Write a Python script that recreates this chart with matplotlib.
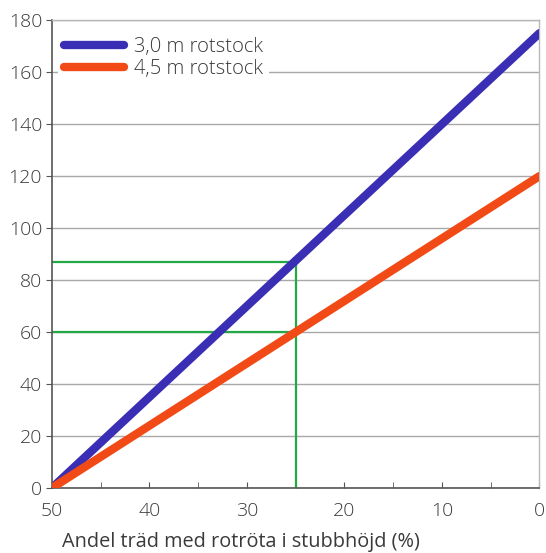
import matplotlib.pyplot as plt
import numpy as np

# values
x_share = [50, 0]                 # andel träd med rotröta (%)
y_30 = [0, 175]                   # 3,0 m rotstock
y_45 = [0, 120]                   # 4,5 m rotstock
labels = ['3,0 m rotstock', '4,5 m rotstock']
mark_x = 25
mark_y = [87, 60]

blue = '#3a2fb4'
orange = '#f24a16'
green = '#23a845'
txt = '#3a3a3a'

plt.rcParams['font.family'] = ['Open Sans', 'DejaVu Sans']
plt.rcParams['font.weight'] = 300

fig = plt.figure(figsize=(5.46, 5.53), dpi=100)
ax = fig.add_axes([0.095, 0.1175, 0.893, 0.846])

ax.set_xlim(50, 0)
ax.set_ylim(0, 180)

# green reading lines
ax.plot([mark_x, mark_x], [0, mark_y[0]], color=green, lw=1.6, zorder=2)
for yv in mark_y:
    ax.plot([50, mark_x], [yv, yv], color=green, lw=1.6, zorder=2)

ax.plot(x_share, y_30, color=blue, lw=6, solid_capstyle='round', label=labels[0], zorder=3)
ax.plot(x_share, y_45, color=orange, lw=6, solid_capstyle='round', label=labels[1], zorder=3)

ax.set_yticks(np.arange(0, 181, 20))
ax.set_xticks([50, 40, 30, 20, 10, 0])
ax.set_xticks(np.arange(5, 50, 10), minor=True)
ax.yaxis.grid(True, color='#a8a8a8', lw=1)
ax.set_axisbelow(True)

ax.tick_params(axis='y', direction='out', length=4, color='#555555', labelsize=14, labelcolor=txt, pad=3)
ax.tick_params(axis='x', which='both', direction='in', length=4, color='#555555', labelsize=14, labelcolor=txt, pad=10)

for s in ['left', 'bottom']:
    ax.spines[s].set_color('#555555')
    ax.spines[s].set_linewidth(1.2)
for s in ['top', 'right']:
    ax.spines[s].set_color('#b8b8b8')
    ax.spines[s].set_linewidth(1)

ax.set_xlabel('Andel träd med rotröta i stubbhöjd (%)', fontsize=14.3, color=txt)
ax.xaxis.set_label_coords(0.388, -0.095)

leg = ax.legend(loc='upper left', bbox_to_anchor=(0.0, 0.99), frameon=True, fontsize=14.5,
                handlelength=3.0, handletextpad=0.5, labelspacing=0.1, borderpad=0.3,
                borderaxespad=0.3)
leg.get_frame().set_facecolor('white')
leg.get_frame().set_edgecolor('none')
leg.get_frame().set_alpha(1)
for t in leg.get_texts():
    t.set_color(txt)

fig.savefig('out.png', dpi=100)
